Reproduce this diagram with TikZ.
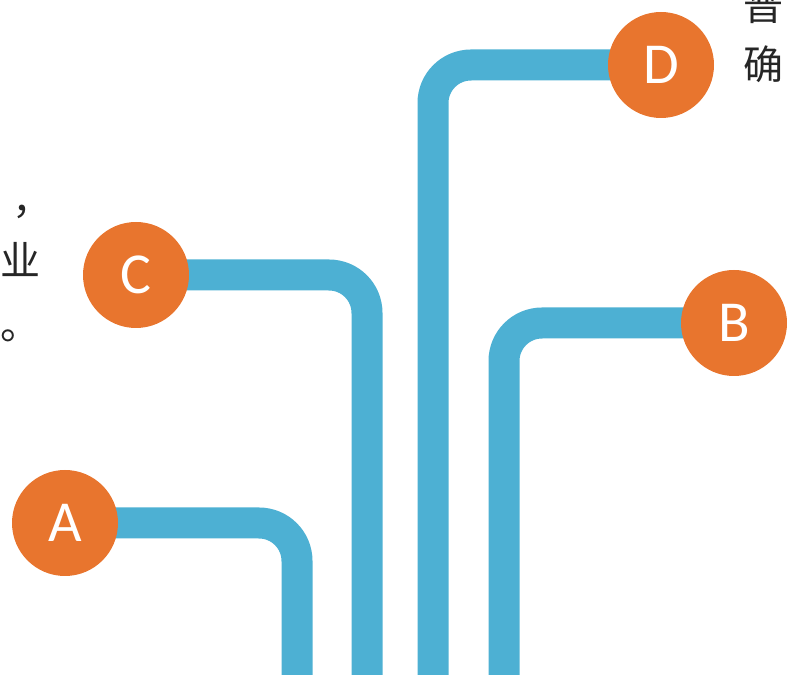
\documentclass[tikz,border=0pt]{standalone}
\usepackage{fontspec}
\newfontfamily\cjk{Noto Sans CJK SC}
\newfontfamily\letterfont{Carlito}
\usetikzlibrary{backgrounds}
\definecolor{pipeblue}{RGB}{77,176,211}
\definecolor{dotorange}{RGB}{232,117,46}
\tikzset{
  letterdot/.style={circle, fill=dotorange, minimum size=106pt, inner sep=0pt,
    text=white, font=\letterfont\fontsize{58}{58}\selectfont},
  pipe/.style={draw=pipeblue, line width=31pt, rounded corners=38pt},
  edgetext/.style={font=\cjk\fontsize{40}{40}\selectfont, inner sep=0pt,
    anchor=base west, text=black!85}
}
\begin{document}
\begin{tikzpicture}[x=1pt,y=1pt]
\useasboundingbox (0,0) rectangle (788,675);
\node[letterdot] (A) at (65,152) {A};
\node[letterdot] (C) at (136,400) {C};
\node[letterdot] (D) at (661,610) {D};
\node[letterdot] (B) at (734,352) {B};
\coordinate (Aend) at (297,-20);
\coordinate (Cend) at (367,-20);
\coordinate (Dend) at (433,-20);
\coordinate (Bend) at (504,-20);
\begin{scope}[on background layer]
\draw[pipe] (A.center) -| (Aend);
\draw[pipe] (C.center) -| (Cend);
\draw[pipe] (D.center) -| (Dend);
\draw[pipe] (B.center) -| (Bend);
\end{scope}
\node[edgetext] (comma) at (12,460) {，};
\node[edgetext] (ye) at (0,399) {业};
\node[edgetext] (stop) at (0,335) {。};
\node[edgetext] (pu) at (743,654) {普};
\node[edgetext] (que) at (743,595) {确};
\end{tikzpicture}
\end{document}
